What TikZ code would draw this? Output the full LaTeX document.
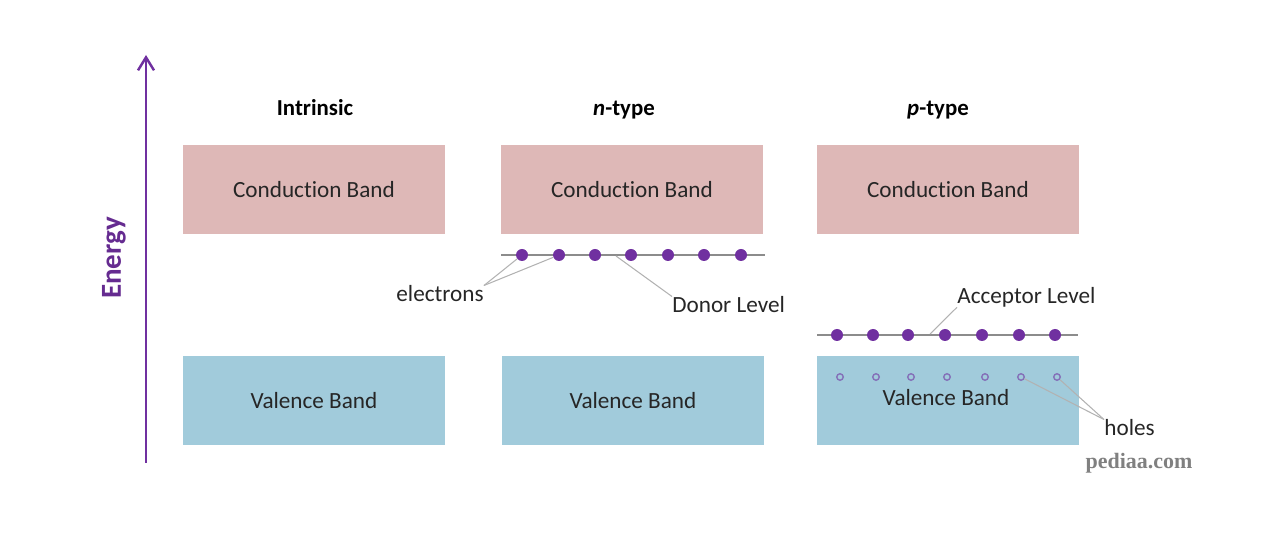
\documentclass[tikz,border=0pt]{standalone}
\usepackage{fontspec}
\setmainfont{Carlito}[Ligatures=NoCommon]
\newfontfamily\markfont{Liberation Serif}
\usepackage{tikz}
\usetikzlibrary{arrows.meta}
\definecolor{cbfill}{HTML}{DEB8B7}
\definecolor{vbfill}{HTML}{A1CBDB}
\definecolor{dotpurple}{HTML}{7030A0}
\definecolor{holeline}{HTML}{8470B8}
\tikzset{
  band/.style={rectangle, minimum width=5.24cm, minimum height=1.78cm, inner sep=0pt,
    text=black!85, font=\fontsize{13.2}{15}\selectfont},
  cband/.style={band, fill=cbfill},
  vband/.style={band, fill=vbfill},
  title/.style={font=\fontsize{13}{15}\selectfont\bfseries, anchor=base},
  lbl/.style={font=\fontsize{13.2}{15}\selectfont, inner sep=0pt, text=black!85},
  edot/.style={circle, fill=dotpurple, minimum size=0.24cm, inner sep=0pt},
  hole/.style={circle, draw=holeline, line width=0.8pt, minimum size=0.13cm, inner sep=0pt},
  level/.style={draw=black!45, line width=1.2pt},
  leader/.style={draw=black!30, line width=0.6pt},
}
\begin{document}
\begin{tikzpicture}[x=0.02cm, y=-0.02cm]
  \useasboundingbox (0,0) rectangle (1262,536);
  % energy axis
  \coordinate (ebot) at (146,463);
  \coordinate (etop) at (146,55);
  \draw[dotpurple, line width=1.4pt, -{Straight Barb[length=2.6mm, width=3.2mm]}] (ebot) -- (etop);
  \node[rotate=90, text=dotpurple!90!black, font=\fontsize{16.5}{18}\selectfont\bfseries] (energy) at (114,258) {Energy};
  % titles
  \node[title] (tint) at (315,116) {Intrinsic};
  \node[title] (tn) at (624,116) {\textit{n}-type};
  \node[title] (tp) at (938,116) {\textit{p}-type};
  % bands
  \node[cband] (cb1) at (314,189.5) {Conduction Band};
  \node[vband] (vb1) at (314,400.5) {Valence Band};
  \node[cband] (cb2) at (632,189.5) {Conduction Band};
  \node[vband] (vb2) at (633,400.5) {Valence Band};
  \node[cband] (cb3) at (948,189.5) {Conduction Band};
  \node[vband] (vb3) at (948,400.5) {};
  % donor level
  \coordinate (nl) at (501,255);
  \coordinate (nr) at (765,255);
  \draw[level] (nl) -- (nr);
  \foreach \x [count=\k] in {522,559,595,631,668,704,741}
    \node[edot] (d\k) at (\x,255) {};
  \node[lbl] (elab) at (440,294) {electrons};
  \draw[leader] (elab.north east) -- (d1);
  \draw[leader] (elab.north east) -- (d2);
  \node[lbl, anchor=west] (dlab) at (672,305) {Donor Level};
  \coordinate (dl) at (616,256);
  \draw[leader] (dlab.north west) -- (dl);
  % acceptor level
  \coordinate (pl) at (817,335);
  \coordinate (pr) at (1078,335);
  \draw[level] (pl) -- (pr);
  \foreach \x [count=\k] in {837,873,908,945,982,1019,1055}
    \node[edot] (a\k) at (\x,335) {};
  \node[lbl, anchor=west] (alab) at (957,297) {Acceptor Level};
  \coordinate (al) at (930,334);
  \draw[leader] (alab.south west) -- (al);
  % holes
  \foreach \x [count=\k] in {840,876,911,947,985,1021,1057}
    \node[hole] (h\k) at (\x,377) {};
  \node[lbl] at (946,398) {Valence Band};
  \node[lbl, anchor=west] (hlab) at (1104,428) {holes};
  \draw[leader] (hlab.north west) -- (h6);
  \draw[leader] (hlab.north west) -- (h7);
  % watermark
  \node[text=black!50, font=\markfont\fontsize{12.5}{14}\selectfont\bfseries] (mark) at (1139,463) {pediaa.com};
\end{tikzpicture}
\end{document}
